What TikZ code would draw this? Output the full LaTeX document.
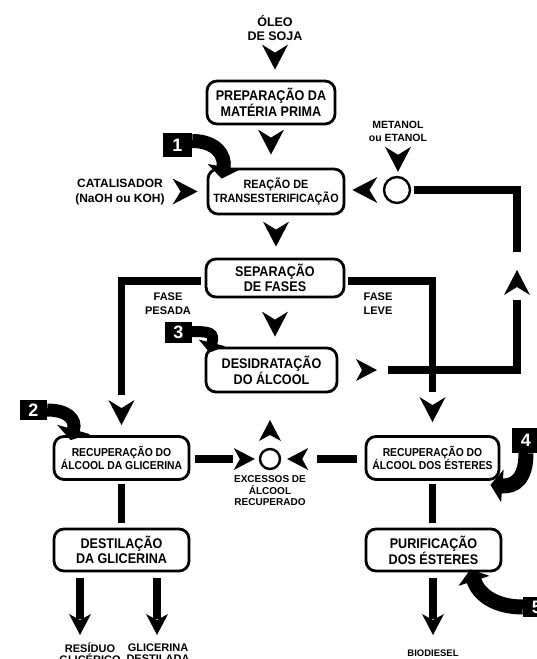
\documentclass[tikz,border=0pt]{standalone}
\usepackage{fontspec}
\setmainfont{Liberation Sans}
\newfontfamily\condf{Liberation Sans}[FakeStretch=0.9]
\usetikzlibrary{decorations.markings,arrows.meta}
\tikzset{
  box/.style={draw, line width=2.8pt, rounded corners=10pt, align=center, inner sep=1pt},
  bigtxt/.style={font=\condf\bfseries\fontsize{14}{14.5}\selectfont},
  midtxt/.style={font=\condf\bfseries\fontsize{11.5}{13}\selectfont},
  lbl/.style={align=center, inner sep=1pt},
  badge/.style={fill=black, text=white, font=\bfseries\fontsize{18}{18}\selectfont, inner sep=0pt},
  pipe/.style={line width=7.5pt},
  ring/.style={circle, draw, line width=2.4pt, inner sep=0pt},
  bighd/.style={decorate, decoration={markings, mark=at position -#1 with {\fill (0pt,0pt) -- (-25pt,13pt) -- (-17pt,0pt) -- (-25pt,-13pt) -- cycle;}}},
  smallhd/.style={decorate, decoration={markings, mark=at position -#1 with {\fill (0pt,0pt) -- (-21pt,11pt) -- (-15pt,0pt) -- (-21pt,-11pt) -- cycle;}}},
}
\begin{document}
\begin{tikzpicture}[x=1pt,y=1pt]
\useasboundingbox (0,0) rectangle (536,-659);
\fill[white] (0,0) rectangle (536,-659);

% main boxes
\node[lbl, font=\bfseries\fontsize{12.5}{14}\selectfont] (oleo) at (275,-28) {ÓLEO\\DE SOJA};
\node[box, bigtxt, minimum width=128pt, minimum height=43pt] (prep) at (271,-102.5) {PREPARAÇÃO DA\\MATÉRIA PRIMA};
\node[box, font=\condf\bfseries\fontsize{12}{13}\selectfont, minimum width=136pt, minimum height=45pt] (reac) at (276,-191.5) {REAÇÃO DE\\TRANSESTERIFICAÇÃO};
\node[box, bigtxt, minimum width=138pt, minimum height=38pt] (sep) at (275,-278) {SEPARAÇÃO\\DE FASES};
\node[box, bigtxt, minimum width=131pt, minimum height=44pt] (desid) at (271.5,-370) {DESIDRATAÇÃO\\DO ÁLCOOL};
\node[box, midtxt, minimum width=135pt, minimum height=43pt] (rg) at (121.5,-458) {RECUPERAÇÃO DO\\ÁLCOOL DA GLICERINA};
\node[box, midtxt, minimum width=133pt, minimum height=43pt] (rd) at (432.5,-458) {RECUPERAÇÃO DO\\ÁLCOOL DOS ÉSTERES};
\node[box, bigtxt, minimum width=135pt, minimum height=42pt] (dg) at (121.5,-550) {DESTILAÇÃO\\DA GLICERINA};
\node[box, bigtxt, minimum width=135pt, minimum height=42pt] (pe) at (433.5,-550) {PURIFICAÇÃO\\DOS ÉSTERES};

% labels
\node[lbl, font=\bfseries\fontsize{12}{14.5}\selectfont] (cat) at (120,-192) {CATALISADOR\\(NaOH ou KOH)};
\node[lbl, font=\bfseries\fontsize{10.5}{13}\selectfont] (met) at (398,-131) {METANOL\\ou ETANOL};
\node[lbl, font=\bfseries\fontsize{11}{14}\selectfont] (pes) at (168,-304) {FASE\\PESADA};
\node[lbl, font=\bfseries\fontsize{11}{14}\selectfont] (lev) at (378,-304) {FASE\\LEVE};
\node[lbl, font=\bfseries\fontsize{10}{11.5}\selectfont] (exc) at (270,-491) {EXCESSOS DE\\ÁLCOOL\\RECUPERADO};
\node[lbl, font=\bfseries\fontsize{9.5}{11}\selectfont] (bio) at (433,-653) {BIODIESEL};
\node[lbl, font=\bfseries\fontsize{11}{11.5}\selectfont] (res) at (90,-653) {RESÍDUO\\GLICÉRICO};
\node[lbl, font=\bfseries\fontsize{11}{11.5}\selectfont] (gd) at (158,-653) {GLICERINA\\DESTILADA};

% badges
\node[badge, minimum width=29pt, minimum height=24pt] (b1) at (177.5,-145) {1};
\node[badge, minimum width=27pt, minimum height=21pt] (b3) at (178.5,-332.5) {3};
\node[badge, minimum width=27pt, minimum height=20pt] (b2) at (33.5,-410) {2};
\node[badge, minimum width=28pt, minimum height=25pt] (b4) at (526,-440.5) {4};
\node[badge, minimum width=28pt, minimum height=20pt] (b5) at (537,-607) {5};

% rings
\node[ring, minimum size=26pt] (mc) at (397,-190) {};
\node[ring, minimum size=20pt] (ec) at (270,-459) {};

% coordinates
\coordinate (ls) at (388,-370);
\coordinate (lu) at (517,-300);
\coordinate (ld) at (517,-252);
\coordinate (eu) at (270,-414);
\coordinate (resin) at (80,-636);
\coordinate (gdin) at (157,-636);
\coordinate (bioin) at (433,-636);

% floating heads in the main column
\path[bighd=10pt] (oleo.south) -- (oleo.south |- prep.north);
\path[bighd=13pt] (prep.south) -- (prep.south |- reac.north);
\path[bighd=11pt] (reac.south) -- (reac.south |- sep.north);
\path[bighd=10pt] (sep.south) -- (sep.south |- desid.north);
\path[bighd=9pt] (cat.east |- reac.west) -- (reac.west);
\path[bighd=4pt] (met.south) -- (met.south |- mc.north);
\path[bighd=7pt] (mc.west) -- (mc.west -| reac.east);

% alcohol loop
\path[smallhd=11pt] (desid.east) -- (ls);
\draw[pipe] (ls) -| (lu);
\path[bighd=18pt] (lu) -- (ld);
\draw[pipe, shorten >=3pt] (ld) |- (mc.east);

% phases
\draw[pipe, shorten <=4pt, shorten >=40pt] ([yshift=-3pt]sep.west) -| (rg.north);
\path[bighd=10pt] ([yshift=-3pt]sep.west) -| (rg.north);
\draw[pipe, shorten <=3pt, shorten >=43pt] ([yshift=-3pt]sep.east) -| (rd.north);
\path[bighd=13pt] ([yshift=-3pt]sep.east) -| (rd.north);

% recovered alcohol
\draw[pipe, shorten <=5pt, shorten >=26pt] (rg.east |- ec.west) -- (ec.west);
\path[smallhd=4pt] (rg.east |- ec.west) -- (ec.west);
\draw[pipe, shorten <=8pt, shorten >=36pt] (rd.west |- ec.east) -- (ec.east);
\path[smallhd=6pt] (rd.west |- ec.east) -- (ec.east);
\path[smallhd=6pt] (ec.north) -- (eu);

% lower flow
\draw[pipe, shorten <=3pt, shorten >=5pt] (rg.south) -- (dg.north);
\draw[pipe, shorten <=3pt, shorten >=5pt] (rd.south) -- (rd.south |- pe.north);
\draw[pipe, shorten <=6pt, shorten >=17pt] (dg.south -| resin) -- (resin);
\path[smallhd=1pt] (dg.south -| resin) -- (resin);
\draw[pipe, shorten <=6pt, shorten >=17pt] (dg.south -| gdin) -- (gdin);
\path[smallhd=1pt] (dg.south -| gdin) -- (gdin);
\draw[pipe, shorten <=6pt, shorten >=17pt] (pe.south -| bioin) -- (bioin);
\path[smallhd=1pt] (pe.south -| bioin) -- (bioin);

% curved badge arrows
\draw[line width=14pt, -{Triangle[length=12pt, width=32pt]}] ([yshift=4pt]b1.east) .. controls +(24,0) and +(4,23) .. ([shift={(15,-11)}]reac.north west);
\draw[line width=11pt, -{Triangle[length=10pt, width=27pt]}] ([yshift=1pt]b3.east) .. controls +(18,0) and +(5,20) .. ([shift={(5,-6)}]desid.north west);
\draw[line width=13pt, -{Triangle[length=11pt, width=34pt]}] (b2.east) .. controls +(20,0) and +(6,21) .. ([shift={(18,-5)}]rg.north west);
\draw[line width=15pt, -{Triangle[length=12pt, width=32pt]}] (b4.south) .. controls +(0,-25) and +(25,-2) .. ([shift={(-10,-4)}]rd.south east);
\draw[line width=15pt, -{Triangle[length=12pt, width=32pt]}] (b5.west) .. controls +(-28,0) and +(8,-25) .. ([shift={(-32,3)}]pe.south east);
\end{tikzpicture}
\end{document}
